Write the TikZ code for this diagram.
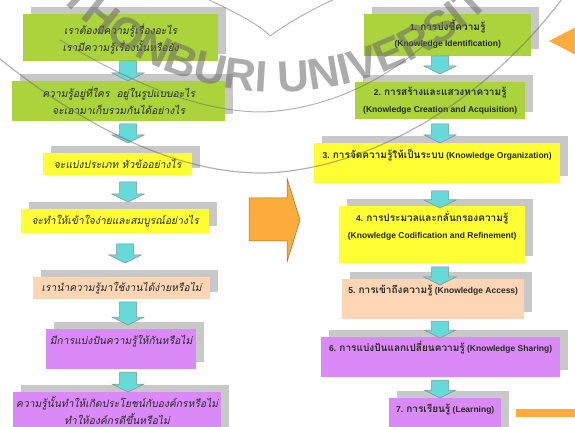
\documentclass[tikz,border=0pt]{standalone}
\usepackage{fontspec}
\setmainfont{Liberation Sans}
\newfontfamily\thaifont[Script=Thai,Scale=1.18]{Loma}
\newfontfamily\thaiit[Script=Thai,FakeSlant=0.2]{Loma}
\newcommand{\T}[1]{{\thaifont #1}}
\usetikzlibrary{shadows,decorations.text,calc}
\definecolor{kgreen}{RGB}{170,211,60}
\definecolor{kyellow}{RGB}{255,255,51}
\definecolor{kpeach}{RGB}{252,214,180}
\definecolor{kpurple}{RGB}{218,138,246}
\definecolor{kshadow}{RGB}{200,200,200}
\definecolor{kcyan}{RGB}{102,217,217}
\definecolor{korange}{RGB}{251,172,60}
\definecolor{ktext}{RGB}{40,40,40}
\definecolor{kwm}{RGB}{105,105,105}
\tikzset{
  kbox/.style={anchor=north west, inner sep=0pt, draw=none, rectangle,
    general shadow={fill=kshadow, shadow xshift=8pt, shadow yshift=7pt}},
  ltxt/.style={font=\thaiit\fontsize{10.3}{17}\selectfont, text=ktext, align=center, inner sep=0pt},
  rtxt/.style={font=\bfseries\fontsize{8.5}{16.5}\selectfont, text=ktext, align=center, inner sep=0pt},
  cyanarr/.style={fill=kcyan, draw=black!45, line width=0.5pt},
  bigarr/.style={fill=korange, draw=black!35!korange, line width=0.5pt}
}
\newcommand{\downarr}[3]{%
  \draw[cyanarr] ({#1-8.5},#2) -- ({#1+8.5},#2) -- ({#1+8.5},{#3-8}) -- ({#1+16},{#3-8})
    -- (#1,#3) -- ({#1-16},{#3-8}) -- ({#1-8.5},{#3-8}) -- cycle;}
\begin{document}
\begin{tikzpicture}[x=1pt,y=-1pt]
\useasboundingbox (0,0) rectangle (575,427);
\clip (0,0) rectangle (575,427);
\fill[white] (0,0) rectangle (575,427);

% ---- left column
\node[kbox, fill=kgreen,  minimum width=195pt, minimum height=47pt] (L1) at (23,14) {};
\node[kbox, fill=kgreen,  minimum width=213pt, minimum height=40pt] (L2) at (12,81) {};
\node[kbox, fill=kyellow, minimum width=149pt, minimum height=22pt] (L3) at (43,153) {};
\node[kbox, fill=kyellow, minimum width=188pt, minimum height=24pt] (L4) at (21,209) {};
\node[kbox, fill=kpeach,  minimum width=177pt, minimum height=22pt] (L5) at (33,277) {};
\node[kbox, fill=kpurple, minimum width=150pt, minimum height=40pt] (L6) at (46,329) {};
\node[kbox, fill=kpurple, minimum width=208pt, minimum height=43pt] (L7) at (13,392) {};

\node[ltxt] (L1t) at ([yshift=-1pt]L1.center) {เราต้องมีความรู้เรื่องอะไร\\เรามีความรู้เรื่องนั้นหรือยัง};
\node[ltxt] (L2t) at (L2.center) {ความรู้อยู่ที่ใคร\ \ อยู่ในรูปแบบอะไร\\จะเอามาเก็บรวมกันได้อย่างไร};
\node[ltxt] (L3t) at (L3.center) {จะแบ่งประเภท หัวข้ออย่างไร};
\node[ltxt] (L4t) at (L4.center) {จะทำให้เข้าใจง่ายและสมบูรณ์อย่างไร};
\node[ltxt] (L5t) at (L5.center) {เรานำความรู้มาใช้งานได้ง่ายหรือไม่};
\node[ltxt] (L6t) at ([yshift=-12pt]L6.north) {มีการแบ่งปันความรู้ให้กันหรือไม่};
\node[ltxt] (L7t) at ([yshift=-18.5pt]L7.north) {ความรู้นั้นทำให้เกิดประโยชน์กับองค์กรหรือไม่\\ทำให้องค์กรดีขึ้นหรือไม่};

% ---- right column
\node[kbox, fill=kgreen,  minimum width=167pt, minimum height=42pt] (R1) at (364,14) {};
\node[kbox, fill=kgreen,  minimum width=170pt, minimum height=37pt] (R2) at (355,82) {};
\node[kbox, fill=kyellow, minimum width=246pt, minimum height=40pt] (R3) at (314,143) {};
\node[kbox, fill=kyellow, minimum width=186pt, minimum height=57pt] (R4) at (339,206) {};
\node[kbox, fill=kpeach,  minimum width=182pt, minimum height=40pt] (R5) at (342,279) {};
\node[kbox, fill=kpurple, minimum width=239pt, minimum height=40pt] (R6) at (321,337) {};
\node[kbox, fill=kpurple, minimum width=112pt, minimum height=37pt] (R7) at (389,398) {};

\node[rtxt] (R1t) at ([yshift=1pt]R1.center) {1. \T{การบ่งชี้ความรู้}\\(Knowledge Identification)};
\node[rtxt] (R2t) at (R2.center) {2. \T{การสร้างและแสวงหาความรู้}\\(Knowledge Creation and Acquisition)};
\node[rtxt] (R3t) at ([yshift=-12pt]R3.north) {3. \T{การจัดความรู้ให้เป็นระบบ} (Knowledge Organization)};
\node[rtxt] (R4t) at ([yshift=-19.5pt]R4.north) {4. \T{การประมวลและกลั่นกรองความรู้}\\(Knowledge Codification and Refinement)};
\node[rtxt] (R5t) at ([yshift=-12pt]R5.north) {5. \T{การเข้าถึงความรู้} (Knowledge Access)};
\node[rtxt] (R6t) at ([yshift=-11pt]R6.north) {6. \T{การแบ่งปันแลกเปลี่ยนความรู้} (Knowledge Sharing)};
\node[rtxt] (R7t) at ([yshift=-11pt]R7.north) {7. \T{การเรียนรู้} (Learning)};

% ---- cyan block arrows
\downarr{128}{61}{81}
\downarr{128}{124}{143}
\downarr{128}{182}{202}
\downarr{125}{244}{263}
\downarr{128}{302}{325}
\downarr{128}{372}{392}
\downarr{440}{56}{74}
\downarr{440}{124}{143}
\downarr{440}{191}{208}
\downarr{440}{267}{285}
\downarr{440}{321}{338}
\downarr{440}{380}{398}

% ---- orange arrows
\draw[bigarr] (249,198) -- (287,198) -- (287,178) -- (300,220) -- (287,262) -- (287,241) -- (249,241) -- cycle;
\fill[korange] (549,41) -- (576,27) -- (576,55) -- cycle;
\fill[korange] (516,409) rectangle (576,417);

% ---- watermark
\begin{scope}[opacity=0.5]
  \draw[kwm, line width=1.2pt] (-5,55) .. controls (100,140) and (190,174) .. (265,173) .. controls (360,170) and (480,110) .. (565,-5);
  \draw[kwm, line width=1pt] (60,40) .. controls (150,95) and (215,112) .. (262,112) .. controls (320,110) and (380,85) .. (430,40);
  \draw[kwm, line width=1pt] (205,-2) .. controls (235,12) and (260,25) .. (270,36) .. controls (285,25) and (310,10) .. (337,-2);
\end{scope}
\begin{scope}[y=1pt, opacity=0.55]
  \path[decorate, decoration={text along path, text align=center,
      text color=kwm, text={|\fontsize{44}{44}\selectfont\bfseries|THONBURI UNIVERSITY}}]
    (278,208) ++(200:300) arc[start angle=200, end angle=344, radius=300];
\end{scope}
\end{tikzpicture}
\end{document}
